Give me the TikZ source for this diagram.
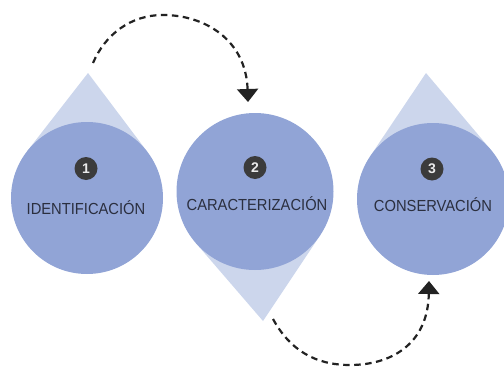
\documentclass[tikz,border=0pt]{standalone}
\usepackage{fontspec}
\setmainfont{Liberation Sans}
\usetikzlibrary{calc,arrows.meta}
\definecolor{circ}{HTML}{91A4D6}
\definecolor{tri}{HTML}{CCD6EC}
\definecolor{numc}{HTML}{3B3B3B}
\definecolor{txt}{HTML}{2B2F3F}
\definecolor{arr}{HTML}{222222}
\begin{document}
\begin{tikzpicture}[x=1pt,y=-1pt,
  holder/.style={circle,minimum size=#1,inner sep=0pt,outer sep=0pt},
  numbadge/.style={circle,fill=numc,text=white!92!black,minimum size=23pt,inner sep=0pt,
    font=\fontsize{14}{14}\selectfont\bfseries},
  lbl/.style={anchor=base,text=txt,inner sep=0pt,
    font=\fontsize{16}{16}\selectfont\addfontfeature{FakeStretch=0.92}},
  dasharr/.style={draw=arr,line width=2.2pt,dash pattern=on 6.5pt off 4.5pt,
    -{Triangle[width=21pt,length=13pt]}}]
\useasboundingbox (0,0) rectangle (504,367);
% circle holders
\path node[holder=152pt] (c1) at (87,198) {};
\path node[holder=157pt] (c2) at (255,191.5) {};
\path node[holder=152pt] (c3) at (433,199) {};
\coordinate (a1) at (88,73);
\coordinate (a2) at (263,321);
\coordinate (a3) at (426,73);
% triangles
\fill[tri] (a1) -- (tangent cs:node=c1,point={(a1)},solution=1) -- (tangent cs:node=c1,point={(a1)},solution=2) -- cycle;
\fill[tri] (a2) -- (tangent cs:node=c2,point={(a2)},solution=1) -- (tangent cs:node=c2,point={(a2)},solution=2) -- cycle;
\fill[tri] (a3) -- (tangent cs:node=c3,point={(a3)},solution=1) -- (tangent cs:node=c3,point={(a3)},solution=2) -- cycle;
% circles
\fill[circ] (c1.center) circle[radius=76pt];
\fill[circ] (c2.center) circle[radius=78.5pt];
\fill[circ] (c3.center) circle[radius=76pt];
% badges
\node[numbadge] (n1) at (86,168.5) {1};
\node[numbadge] (n2) at (255,167.5) {2};
\node[numbadge] (n3) at (432,169) {3};
% labels
\node[lbl] (l1) at (86,214) {IDENTIFICACIÓN};
\node[lbl] (l2) at (257,210) {CARACTERIZACIÓN};
\node[lbl] (l3) at (433,211) {CONSERVACIÓN};
% arrows
\coordinate (s1) at (93,63);
\coordinate (e1) at (248,102);
\coordinate (s2) at (273,319);
\coordinate (e2) at (429,281);
\draw[dasharr] (s1) .. controls (105,35) and (130,15) .. (163,15)
  .. controls (205,15) and (246,40) .. (e1);
\draw[dasharr] (s2) .. controls (290,350) and (315,365) .. (350,365)
  .. controls (390,365) and (428,345) .. (e2);
\end{tikzpicture}
\end{document}
